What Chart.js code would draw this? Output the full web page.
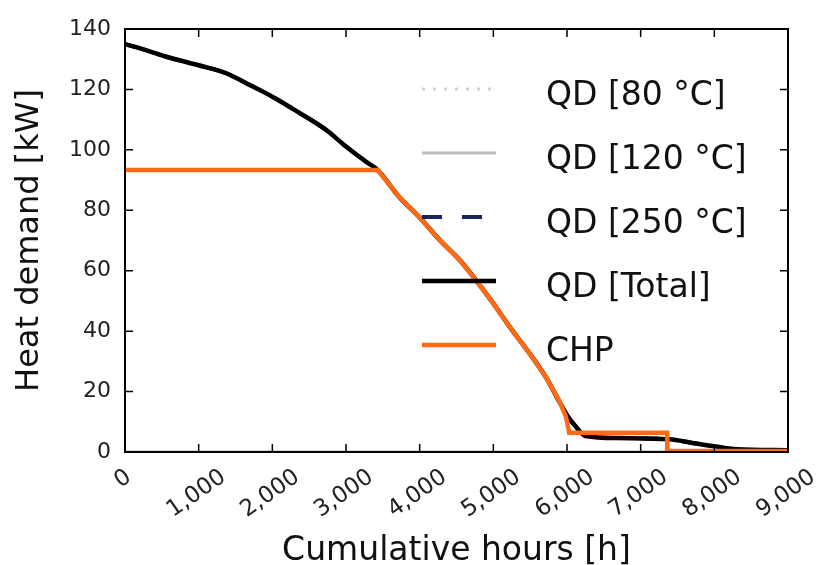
<!DOCTYPE html>
<html>
<head>
<meta charset="utf-8">
<title>Heat demand duration curve</title>
<script src="https://cdn.jsdelivr.net/npm/chart.js@4.4.1/dist/chart.umd.min.js"></script>
<style>
  html, body { margin: 0; padding: 0; background: #ffffff; }
  #wrap { width: 820px; height: 565px; }
</style>
</head>
<body>
<div id="wrap"><canvas id="c" width="820" height="565"></canvas></div>
<script>
// Axis ticks
const xTicks = [0, 1000, 2000, 3000, 4000, 5000, 6000, 7000, 8000, 9000];
const xTickLabels = ['0', '1,000', '2,000', '3,000', '4,000', '5,000', '6,000', '7,000', '8,000', '9,000'];
const yTicks = [0, 20, 40, 60, 80, 100, 120, 140];
const yTickLabels = ['0', '20', '40', '60', '80', '100', '120', '140'];

// Series names
const seriesLabels = ['QD [80 °C]', 'QD [120 °C]', 'QD [250 °C]', 'QD [Total]', 'CHP'];

// Heat demand per temperature level (kW) against cumulative hours
const qd80Hours = [0, 9000];
const qd80KW = [0, 0];
const qd120Hours = [0, 9000];
const qd120KW = [0, 0];

// Total heat demand duration curve (kW); the 250 °C level carries all of it
const totalHours = [0, 150, 550, 1000, 1370, 1650, 2000, 2370, 2730, 3000, 3270, 3430,
                    3720, 3990, 4270, 4540, 4760, 4990, 5220, 5490, 5710, 5900, 6020, 6120,
                    6250, 6700, 7390, 7700, 8020, 8300, 9000];
const totalKW = [135.0, 134.0, 130.9, 128.0, 125.4, 122.0, 117.6, 112.2, 106.6, 101.1, 96.1, 93.3,
                 84.5, 77.9, 70.2, 63.6, 57.0, 49.5, 41.5, 32.7, 24.9, 16.5, 11.5, 8.4,
                 5.3, 4.6, 4.2, 3.0, 1.8, 0.9, 0.6];
const qd250Hours = totalHours;
const qd250KW = totalKW;

// CHP heat supply (kW)
const chpHours = [0, 3430, 3720, 3990, 4270, 4540, 4760, 4990, 5220, 5490, 5710, 5890, 5985, 6030, 7360, 7360, 9000];
const chpKW = [93.3, 93.3, 84.5, 77.9, 70.2, 63.6, 57.0, 49.5, 41.5, 32.7, 24.9, 17.2, 11.7, 6.4, 6.4, 0.3, 0.3];

const FONT = '"DejaVu Sans", "Liberation Sans", sans-serif';

function pts(xs, ys) {
  return xs.map((x, i) => ({ x: x, y: ys[i] }));
}

function drawText(ctx, str, x, y, o) {
  ctx.save();
  ctx.translate(x, y);
  if (o.rot) ctx.rotate(o.rot);
  ctx.font = o.size + 'px ' + FONT;
  ctx.fillStyle = o.color || '#000';
  ctx.textAlign = o.align || 'left';
  ctx.textBaseline = o.baseline || 'alphabetic';
  ctx.fillText(str, 0, 0);
  ctx.restore();
}

// Axes box, inward ticks, tick labels, axis titles and legend (matplotlib-like look)
const decorPlugin = {
  id: 'decor',
  afterDatasetsDraw(chart) {
    const { ctx, chartArea: a, scales: { x, y } } = chart;
    ctx.save();
    ctx.strokeStyle = '#000';
    ctx.lineWidth = 2;
    ctx.strokeRect(a.left, a.top, a.right - a.left, a.bottom - a.top);
    ctx.lineWidth = 1.5;
    ctx.beginPath();
    const tl = 8;
    xTicks.forEach(v => {
      const px = x.getPixelForValue(v);
      ctx.moveTo(px, a.bottom); ctx.lineTo(px, a.bottom - tl);
      ctx.moveTo(px, a.top); ctx.lineTo(px, a.top + tl);
    });
    yTicks.forEach(v => {
      const py = y.getPixelForValue(v);
      ctx.moveTo(a.left, py); ctx.lineTo(a.left + tl, py);
      ctx.moveTo(a.right, py); ctx.lineTo(a.right - tl, py);
    });
    ctx.stroke();
    ctx.restore();
  },
  afterDraw(chart) {
    const { ctx, chartArea: a, scales: { x, y } } = chart;
    // y tick labels
    yTicks.forEach((v, i) => {
      drawText(ctx, yTickLabels[i], a.left - 14, y.getPixelForValue(v),
        { size: 22, align: 'right', baseline: 'middle', color: '#222' });
    });
    // rotated x tick labels, centred under each tick
    const xSize = 23;
    const ang = 35 * Math.PI / 180;
    ctx.save();
    ctx.font = xSize + 'px ' + FONT;
    xTicks.forEach((v, i) => {
      const w = ctx.measureText(xTickLabels[i]).width;
      const h = xSize * 0.73;
      const bh = w * Math.sin(ang) + h * Math.cos(ang);
      const cx = x.getPixelForValue(v) - 2;
      const cy = a.bottom + 16 + bh / 2;
      drawText(ctx, xTickLabels[i], cx, cy,
        { size: xSize, align: 'center', baseline: 'middle', rot: -ang, color: '#222' });
    });
    ctx.restore();
    // axis titles
    drawText(ctx, 'Cumulative hours [h]', (a.left + a.right) / 2, 560,
      { size: 33, align: 'center', color: '#111' });
    drawText(ctx, 'Heat demand [kW]', 38, (a.top + a.bottom) / 2,
      { size: 32, align: 'center', rot: -Math.PI / 2, color: '#111' });
    // legend
    const rowY = [89, 153, 217, 281, 345];
    chart.data.datasets.forEach((ds, i) => {
      const ly = rowY[i];
      ctx.save();
      ctx.strokeStyle = ds.borderColor;
      ctx.lineWidth = ds.borderWidth;
      ctx.setLineDash(ds.borderDash || []);
      ctx.beginPath();
      ctx.moveTo(422, ly);
      ctx.lineTo(496, ly);
      ctx.stroke();
      ctx.restore();
      drawText(ctx, ds.label, 546, ly + 16, { size: 33, color: '#111' });
    });
  }
};

const chart = new Chart(document.getElementById('c'), {
  type: 'line',
  data: {
    datasets: [
      { label: seriesLabels[0], data: pts(qd80Hours, qd80KW), borderColor: '#d3cfd8', borderWidth: 3, borderDash: [3, 8], order: 4 },
      { label: seriesLabels[1], data: pts(qd120Hours, qd120KW), borderColor: '#bdbdbd', borderWidth: 3, order: 3 },
      { label: seriesLabels[2], data: pts(qd250Hours, qd250KW), borderColor: '#1b2557', borderWidth: 4, borderDash: [20, 20], order: 2, cubicInterpolationMode: 'monotone' },
      { label: seriesLabels[3], data: pts(totalHours, totalKW), borderColor: '#000000', borderWidth: 4.5, order: 1, cubicInterpolationMode: 'monotone' },
      { label: seriesLabels[4], data: pts(chpHours, chpKW), borderColor: '#ff6a13', borderWidth: 4.5, order: 0 }
    ]
  },
  options: {
    responsive: false,
    devicePixelRatio: 1,
    animation: false,
    layout: { padding: { top: 29, right: 32, left: 0, bottom: 0 } },
    elements: { point: { radius: 0 }, line: { tension: 0, fill: false } },
    plugins: { legend: { display: false }, tooltip: { enabled: false } },
    scales: {
      x: {
        type: 'linear', min: 0, max: 9000,
        grid: { display: false }, border: { display: false },
        ticks: { display: false },
        afterBuildTicks: s => { s.ticks = xTicks.map(v => ({ value: v })); },
        afterFit: s => { s.height = 113; }
      },
      y: {
        type: 'linear', min: 0, max: 140,
        grid: { display: false }, border: { display: false },
        ticks: { display: false },
        afterBuildTicks: s => { s.ticks = yTicks.map(v => ({ value: v })); },
        afterFit: s => { s.width = 125; }
      }
    }
  },
  plugins: [decorPlugin]
});
</script>
</body>
</html>
